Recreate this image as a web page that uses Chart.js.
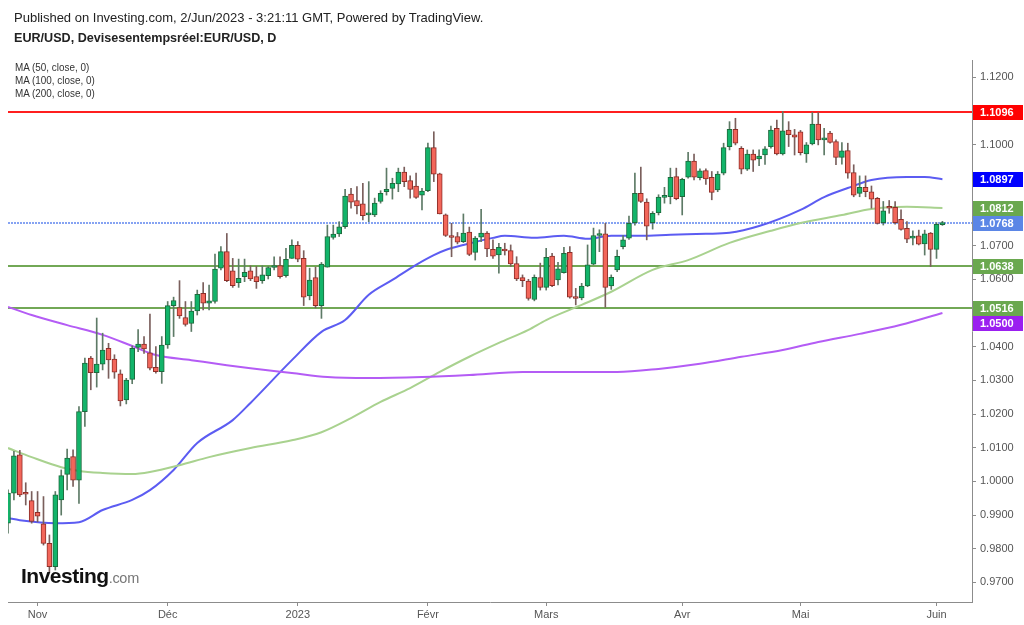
<!DOCTYPE html>
<html>
<head>
<meta charset="utf-8">
<script src="https://cdn.jsdelivr.net/npm/chart.js@4.4.0/dist/chart.umd.min.js"></script>
<style>
  body { margin: 0; background: #fff; font-family: "Liberation Sans", Arial, sans-serif; }
  #wrap { position: relative; width: 1024px; height: 625px; overflow: hidden; }
  #c { position: absolute; left: 0; top: 0; }
  .txt { position: absolute; color: #222; white-space: nowrap; }
  .pub { left: 14px; top: 10px; font-size: 13px; line-height: 15px; }
  .sym { left: 14px; top: 31px; font-size: 12.6px; line-height: 15px; font-weight: bold; }
  .ma  { left: 15px; top: 61px; font-size: 11.5px; line-height: 13px; color: #333;
         transform: scaleX(0.86); transform-origin: left top; }
  .logo { left: 21px; top: 564px; font-size: 21px; font-weight: bold; color: #111; letter-spacing: -0.5px; }
  .logo span { font-size: 14.5px; font-weight: normal; color: #777; letter-spacing: -0.3px; }
</style>
</head>
<body>
<div id="wrap">
  <canvas id="c" width="1024" height="625"></canvas>
  <div class="txt pub">Published on Investing.com, 2/Jun/2023 - 3:21:11 GMT, Powered by TradingView.</div>
  <div class="txt sym">EUR/USD, Devisesentempsréel:EUR/USD, D</div>
  <div class="txt ma">MA (50, close, 0)<br>MA (100, close, 0)<br>MA (200, close, 0)</div>
  <div class="txt logo">Investing<span>.com</span></div>
</div>
<script>
// ─── DONNÉES ──────────────────────────────────────────────────────────────
// bougies journalières, 25 oct. 2022 -> 2 juin 2023 : [open, high, low, close]
const ohlc = [
  [0.9876, 0.9975, 0.9846, 0.9965], [0.9965, 1.0089, 0.9945, 1.0076], [1.0079, 1.0092, 0.9955, 0.9960],
  [0.9965, 0.9996, 0.9930, 0.9962], [0.9943, 0.9970, 0.9876, 0.9881],
  // nov
  [0.9908, 0.9970, 0.9880, 0.9897], [0.9874, 0.9955, 0.9811, 0.9816], [0.9816, 0.9841, 0.9732, 0.9747],
  [0.9747, 0.9970, 0.9737, 0.9960], [0.9945, 1.0034, 0.9900, 1.0017], [1.0021, 1.0096, 0.9975, 1.0069],
  [1.0074, 1.0094, 0.9985, 1.0004], [1.0004, 1.0222, 0.9935, 1.0207], [1.0207, 1.0366, 1.0163, 1.0351],
  [1.0366, 1.0371, 1.0272, 1.0323], [1.0323, 1.0485, 1.0280, 1.0348], [1.0348, 1.0440, 1.0331, 1.0390],
  [1.0395, 1.0410, 1.0306, 1.0361], [1.0363, 1.0376, 1.0306, 1.0324], [1.0319, 1.0331, 1.0224, 1.0239],
  [1.0242, 1.0306, 1.0230, 1.0301], [1.0303, 1.0402, 1.0290, 1.0395], [1.0398, 1.0451, 1.0385, 1.0408],
  [1.0408, 1.0430, 1.0380, 1.0393], [1.0382, 1.0497, 1.0331, 1.0336], [1.0339, 1.0400, 1.0321, 1.0326],
  [1.0326, 1.0430, 1.0291, 1.0405],
  // déc
  [1.0405, 1.0534, 1.0395, 1.0522], [1.0522, 1.0547, 1.0430, 1.0537], [1.0516, 1.0596, 1.0484, 1.0491],
  [1.0486, 1.0534, 1.0461, 1.0466], [1.0469, 1.0534, 1.0445, 1.0506], [1.0506, 1.0568, 1.0494, 1.0555],
  [1.0558, 1.0590, 1.0509, 1.0529], [1.0529, 1.0583, 1.0509, 1.0536], [1.0534, 1.0675, 1.0529, 1.0630],
  [1.0633, 1.0697, 1.0628, 1.0682], [1.0682, 1.0736, 1.0593, 1.0596], [1.0625, 1.0662, 1.0576, 1.0581],
  [1.0590, 1.0660, 1.0576, 1.0603], [1.0608, 1.0660, 1.0593, 1.0621], [1.0625, 1.0640, 1.0596, 1.0601],
  [1.0608, 1.0638, 1.0573, 1.0593], [1.0596, 1.0640, 1.0588, 1.0613], [1.0611, 1.0638, 1.0601, 1.0635],
  [1.0635, 1.0667, 1.0628, 1.0638], [1.0641, 1.0667, 1.0603, 1.0608], [1.0611, 1.0692, 1.0606, 1.0659],
  [1.0662, 1.0717, 1.0662, 1.0701],
  // janv
  [1.0701, 1.0712, 1.0652, 1.0660], [1.0662, 1.0685, 1.0522, 1.0547], [1.0551, 1.0633, 1.0539, 1.0598],
  [1.0605, 1.0636, 1.0515, 1.0522], [1.0522, 1.0650, 1.0484, 1.0645], [1.0636, 1.0761, 1.0636, 1.0727],
  [1.0724, 1.0761, 1.0719, 1.0734], [1.0735, 1.0771, 1.0727, 1.0756], [1.0756, 1.0867, 1.0751, 1.0847],
  [1.0853, 1.0870, 1.0811, 1.0829], [1.0834, 1.0875, 1.0794, 1.0818], [1.0824, 1.0885, 1.0776, 1.0789],
  [1.0791, 1.0890, 1.0771, 1.0796], [1.0791, 1.0841, 1.0786, 1.0826], [1.0831, 1.0863, 1.0826, 1.0855],
  [1.0860, 1.0930, 1.0850, 1.0867], [1.0870, 1.0900, 1.0838, 1.0885], [1.0883, 1.0930, 1.0860, 1.0918],
  [1.0918, 1.0933, 1.0875, 1.0890], [1.0893, 1.0907, 1.0841, 1.0867], [1.0877, 1.0915, 1.0840, 1.0843],
  [1.0850, 1.0870, 1.0806, 1.0862],
  // févr
  [1.0863, 1.1004, 1.0860, 1.0991], [1.0991, 1.1038, 1.0890, 1.0912], [1.0913, 1.0915, 1.0794, 1.0794],
  [1.0791, 1.0794, 1.0727, 1.0730], [1.0730, 1.0766, 1.0667, 1.0724], [1.0727, 1.0739, 1.0705, 1.0710],
  [1.0712, 1.0794, 1.0709, 1.0737], [1.0740, 1.0755, 1.0670, 1.0674], [1.0680, 1.0727, 1.0657, 1.0722],
  [1.0725, 1.0808, 1.0712, 1.0737], [1.0737, 1.0742, 1.0667, 1.0690], [1.0689, 1.0717, 1.0662, 1.0669],
  [1.0672, 1.0707, 1.0618, 1.0695], [1.0690, 1.0707, 1.0672, 1.0684], [1.0685, 1.0702, 1.0638, 1.0646],
  [1.0647, 1.0667, 1.0596, 1.0601], [1.0605, 1.0613, 1.0578, 1.0596], [1.0595, 1.0600, 1.0538, 1.0543],
  [1.0540, 1.0613, 1.0536, 1.0606], [1.0605, 1.0648, 1.0568, 1.0576],
  // mars
  [1.0576, 1.0692, 1.0568, 1.0665], [1.0669, 1.0677, 1.0578, 1.0581], [1.0598, 1.0650, 1.0583, 1.0631],
  [1.0620, 1.0695, 1.0618, 1.0677], [1.0680, 1.0697, 1.0544, 1.0547], [1.0548, 1.0573, 1.0524, 1.0543],
  [1.0545, 1.0588, 1.0539, 1.0580], [1.0580, 1.0702, 1.0578, 1.0643], [1.0645, 1.0752, 1.0643, 1.0730],
  [1.0730, 1.0747, 1.0682, 1.0735], [1.0735, 1.0766, 1.0517, 1.0576], [1.0580, 1.0613, 1.0570, 1.0606],
  [1.0628, 1.0687, 1.0623, 1.0668], [1.0697, 1.0730, 1.0690, 1.0717], [1.0722, 1.0788, 1.0718, 1.0766],
  [1.0768, 1.0915, 1.0761, 1.0855], [1.0855, 1.0933, 1.0828, 1.0831], [1.0829, 1.0839, 1.0717, 1.0758],
  [1.0768, 1.0801, 1.0749, 1.0796], [1.0798, 1.0851, 1.0791, 1.0844], [1.0843, 1.0873, 1.0826, 1.0845],
  [1.0845, 1.0930, 1.0824, 1.0903], [1.0905, 1.0930, 1.0836, 1.0839],
  // avr
  [1.0845, 1.0900, 1.0791, 1.0897], [1.0903, 1.0977, 1.0900, 1.0951], [1.0951, 1.0972, 1.0895, 1.0903],
  [1.0902, 1.0928, 1.0895, 1.0922], [1.0923, 1.0928, 1.0882, 1.0898], [1.0903, 1.0920, 1.0836, 1.0858],
  [1.0865, 1.0920, 1.0860, 1.0912], [1.0915, 1.1004, 1.0910, 1.0991], [1.0994, 1.1068, 1.0984, 1.1045],
  [1.1045, 1.1078, 1.0999, 1.1004], [1.0989, 1.0994, 1.0913, 1.0927], [1.0927, 1.0984, 1.0923, 1.0972],
  [1.0972, 1.0984, 1.0920, 1.0954], [1.0957, 1.0984, 1.0937, 1.0966], [1.0969, 1.0994, 1.0941, 1.0987],
  [1.0994, 1.1055, 1.0989, 1.1043], [1.1048, 1.1073, 1.0969, 1.0972], [1.0972, 1.1098, 1.0969, 1.1041],
  [1.1043, 1.1068, 1.0994, 1.1029], [1.1029, 1.1045, 1.0969, 1.1022],
  // mai
  [1.1038, 1.1042, 1.0969, 1.0976], [1.0972, 1.1006, 1.0947, 1.0999], [1.1002, 1.1095, 1.0999, 1.1061],
  [1.1061, 1.1095, 1.0999, 1.1014], [1.1014, 1.1048, 1.0969, 1.1019], [1.1034, 1.1039, 1.1004, 1.1006],
  [1.1009, 1.1014, 1.0940, 1.0962], [1.0962, 1.1006, 1.0942, 1.0981], [1.0982, 1.1004, 1.0900, 1.0915],
  [1.0917, 1.0940, 1.0845, 1.0850], [1.0855, 1.0907, 1.0845, 1.0873], [1.0873, 1.0907, 1.0845, 1.0860],
  [1.0860, 1.0877, 1.0811, 1.0838], [1.0840, 1.0843, 1.0764, 1.0766], [1.0768, 1.0831, 1.0761, 1.0803],
  [1.0816, 1.0834, 1.0796, 1.0811], [1.0814, 1.0831, 1.0764, 1.0768], [1.0778, 1.0806, 1.0746, 1.0748],
  [1.0751, 1.0771, 1.0709, 1.0719], [1.0722, 1.0744, 1.0702, 1.0725], [1.0729, 1.0746, 1.0702, 1.0704],
  [1.0705, 1.0746, 1.0672, 1.0735], [1.0737, 1.0739, 1.0638, 1.0689],
  // juin
  [1.0689, 1.0768, 1.0662, 1.0763], [1.0762, 1.0772, 1.0760, 1.0768]
];

// moyennes mobiles : [indice de séance, valeur]
const ma50 = [
  [0, 0.9891], [2, 0.9885], [8, 0.9876], [12, 0.9879], [16, 0.9915], [21, 0.9945], [24, 0.9974],
  [28, 1.0034], [32, 1.0114], [38, 1.0182], [41, 1.0233], [48, 1.0360], [53, 1.0444], [57, 1.0479],
  [61, 1.0554], [65, 1.0598], [69, 1.0643], [72, 1.0672], [74, 1.0687], [77, 1.0702], [82, 1.0723],
  [84, 1.0729], [89, 1.0723], [94, 1.0729], [98, 1.0720], [102, 1.0729], [107, 1.0729], [112, 1.0732],
  [118, 1.0735], [122, 1.0738], [127, 1.0758], [134, 1.0806], [138, 1.0844], [142, 1.0871],
  [146, 1.0895], [152, 1.0904], [155, 1.0904], [158, 1.0897]
];
const ma100 = [
  [0, 1.0099], [4, 1.0072], [9, 1.0042], [12, 1.0031], [16, 1.0025], [21, 1.0022], [24, 1.0028],
  [29, 1.0048], [34, 1.0072], [41, 1.0099], [48, 1.0122], [53, 1.0146], [58, 1.0188], [63, 1.0236],
  [68, 1.0277], [73, 1.0325], [78, 1.0370], [83, 1.0411], [88, 1.0450], [91, 1.0479], [97, 1.0524],
  [102, 1.0563], [109, 1.0628], [115, 1.0657], [122, 1.0708], [129, 1.0744], [134, 1.0767],
  [141, 1.0791], [146, 1.0809], [152, 1.0815], [158, 1.0812]
];
const ma200 = [
  [0, 1.0518], [4, 1.0494], [10, 1.0464], [16, 1.0435], [21, 1.0402], [25, 1.0375], [31, 1.0360],
  [37, 1.0345], [41, 1.0336], [48, 1.0322], [54, 1.0310], [61, 1.0307], [70, 1.0310], [78, 1.0316],
  [87, 1.0325], [95, 1.0325], [103, 1.0325], [110, 1.0334], [117, 1.0349], [124, 1.0370],
  [131, 1.0390], [137, 1.0414], [144, 1.0438], [151, 1.0465], [158, 1.0500]
];

// niveaux tracés + étiquettes de l'axe des prix
const levelValues = [1.1096, 1.0638, 1.0516];
const lastPrice = 1.0768;
const tagValues = [1.1096, 1.0897, 1.0812, 1.0768, 1.0638, 1.0516, 1.0500];

// axes
const monthIdx = [5, 27, 49, 71, 91, 114, 134, 157];
const monthLabels = ['Nov', 'Déc', '2023', 'Févr', 'Mars', 'Avr', 'Mai', 'Juin'];
const priceTicks = [0.97, 0.98, 0.99, 1.00, 1.01, 1.02, 1.03, 1.04, 1.05, 1.06, 1.07, 1.08, 1.09, 1.10, 1.11, 1.12];

// ─── STYLES ──────────────────────────────────────────────────────────────
const UP = '#12b46a', UP_EDGE = '#1d6a3c', UP_WICK = '#5d7a66';
const DOWN = '#f2665a', DOWN_EDGE = '#8e2e28', DOWN_WICK = '#7a5f5c';
const levelColors = ['#ff1f1f', '#72a856', '#72a856'];
const tagColors = ['#ff0000', '#0000ff', '#6aa84f', '#5b86e6', '#6aa84f', '#6aa84f', '#9b1ff0'];

const isUp = ohlc.map(d => d[3] >= d[0]);

// ─── PLUGIN : niveaux + étiquettes ────────────────────────────────────────
const levelsPlugin = {
  id: 'levels',
  beforeDatasetsDraw(chart) {
    const { ctx, chartArea: a, scales: { y } } = chart;
    ctx.save();
    levelValues.forEach((v, k) => {
      const py = Math.round(y.getPixelForValue(v));
      ctx.strokeStyle = levelColors[k];
      ctx.lineWidth = 2;
      ctx.beginPath();
      ctx.moveTo(a.left, py);
      ctx.lineTo(a.right, py);
      ctx.stroke();
    });
    // dernier cours, pointillé bleu clair
    const py = Math.round(y.getPixelForValue(lastPrice));
    ctx.setLineDash([2, 1]);
    ctx.strokeStyle = '#86a3f2';
    ctx.lineWidth = 2;
    ctx.beginPath();
    ctx.moveTo(a.left, py);
    ctx.lineTo(a.right, py);
    ctx.stroke();
    ctx.restore();
  },
  afterDraw(chart) {
    const { ctx, chartArea: a, scales: { y } } = chart;
    ctx.save();
    ctx.font = 'bold 11px "Liberation Sans", Arial, sans-serif';
    ctx.textBaseline = 'middle';
    ctx.textAlign = 'left';
    // étiquettes décalées vers le bas si elles se chevauchent
    let prev = -Infinity;
    tagValues
      .map((v, k) => ({ v, k, py: Math.round(y.getPixelForValue(v)) }))
      .sort((p, q) => p.py - q.py)
      .forEach(t => {
        const py = Math.max(t.py, prev + 15);
        prev = py;
        ctx.fillStyle = tagColors[t.k];
        ctx.fillRect(a.right + 1, py - 7, 50, 15);
        ctx.fillStyle = '#fff';
        ctx.fillText(t.v.toFixed(4), a.right + 8, py + 0.5);
      });
    ctx.restore();
  }
};

// ─── GRAPHIQUE ───────────────────────────────────────────────────────────
const maLine = (pts, color) => ({
  type: 'line',
  data: pts.map(([i, v]) => ({ x: i, y: v })),
  borderColor: color,
  borderWidth: 2,
  pointRadius: 0,
  cubicInterpolationMode: 'monotone',
  fill: false,
  order: 5
});

new Chart(document.getElementById('c'), {
  type: 'bar',
  data: {
    datasets: [
      maLine(ma200, '#b45cf5'),
      maLine(ma100, '#a9d28f'),
      maLine(ma50, '#5c5cf2'),
      {
        // mèches
        data: ohlc.map((d, i) => ({ x: i, y: [d[2], d[1]] })),
        backgroundColor: isUp.map(u => u ? UP_WICK : DOWN_WICK),
        barThickness: 1,
        grouped: false,
        order: 2
      },
      {
        // corps
        data: ohlc.map((d, i) => ({ x: i, y: [d[0], d[3]] })),
        backgroundColor: isUp.map(u => u ? UP : DOWN),
        borderColor: isUp.map(u => u ? UP_EDGE : DOWN_EDGE),
        borderWidth: 1,
        borderSkipped: false,
        barThickness: 5,
        minBarLength: 2,
        grouped: false,
        order: 1
      }
    ]
  },
  options: {
    responsive: false,
    animation: false,
    layout: { padding: { left: 8, top: 60, right: 0, bottom: 0 } },
    plugins: { legend: { display: false }, tooltip: { enabled: false } },
    scales: {
      x: {
        type: 'linear',
        min: 0,
        max: 163,
        offset: false,
        afterBuildTicks: s => { s.ticks = monthIdx.map(v => ({ value: v })); },
        afterFit: s => { s.height = 23; },
        border: { color: '#8c8c8c' },
        grid: { drawOnChartArea: false, offset: false, tickLength: 4, color: '#8c8c8c' },
        ticks: {
          autoSkip: false,
          maxRotation: 0,
          padding: 2,
          color: '#555',
          font: { size: 11, family: '"Liberation Sans", Arial, sans-serif' },
          callback: v => monthLabels[monthIdx.indexOf(v)]
        }
      },
      y: {
        position: 'right',
        min: 0.9642,
        max: 1.1251,
        afterBuildTicks: s => { s.ticks = priceTicks.map(v => ({ value: v })); },
        afterFit: s => { s.width = 52; },
        border: { color: '#8c8c8c' },
        grid: { drawOnChartArea: false, tickLength: 4, color: '#8c8c8c' },
        ticks: {
          autoSkip: false,
          padding: 4,
          color: '#555',
          font: { size: 11, family: '"Liberation Sans", Arial, sans-serif' },
          callback: v => v.toFixed(4)
        }
      }
    }
  },
  plugins: [levelsPlugin]
});
</script>
</body>
</html>
